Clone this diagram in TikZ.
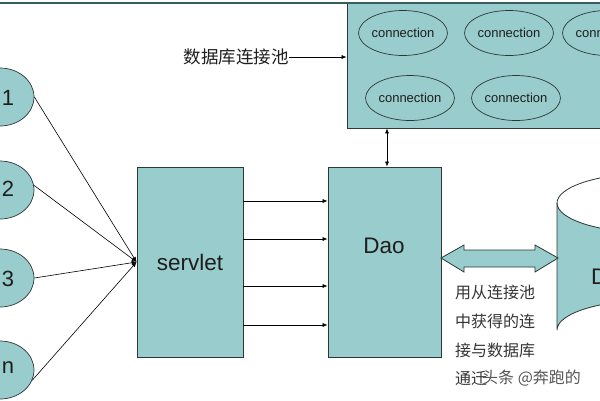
\documentclass[tikz,border=0pt]{standalone}
\usepackage{fontspec}
\setmainfont{Liberation Sans}
\newfontfamily\cjk{Noto Sans CJK SC}
\usetikzlibrary{arrows.meta,shapes.geometric}
\definecolor{tealfill}{RGB}{153,204,204}
\definecolor{edge}{RGB}{45,55,55}
\definecolor{topline}{RGB}{55,95,95}
\definecolor{txt}{RGB}{30,30,30}
\begin{document}
\begin{tikzpicture}[x=1pt,y=-1pt,
  box/.style={draw=edge, fill=tealfill, line width=0.8pt, inner sep=0},
  conn/.style={ellipse, draw=edge, line width=0.7pt, minimum width=86pt, minimum height=45pt, inner sep=0, text=txt, font=\fontsize{13}{15}\selectfont},
  client/.style={ellipse, draw=edge, fill=tealfill, line width=0.7pt, minimum width=68pt, minimum height=58pt, inner sep=0},
  numtxt/.style={font=\fontsize{22}{24}\selectfont, text=txt, inner sep=0},
  bigtxt/.style={font=\fontsize{22.5}{25}\selectfont, text=txt, inner sep=0},
  cjktxt/.style={font=\cjk\fontsize{16}{18}\selectfont, text=txt!90, inner sep=0, anchor=west},
  arr/.style={-{Latex[length=5pt,width=4pt]}, line width=0.6pt, draw=black},
  darr/.style={{Latex[length=5pt,width=4pt]}-{Latex[length=5pt,width=4pt]}, line width=0.6pt, draw=black}
]
\useasboundingbox (0,0) rectangle (600,400);
\clip (0,0) rectangle (600,400);
\fill[white] (0,0) rectangle (600,400);

% pool box
\node[box, minimum width=273pt, minimum height=125pt] (pool) at (483.5,65.5) {};
\draw[topline, line width=2pt] (0,2.5) -- (600,2.5);
\node[conn] (k1) at (403,33) {connection};
\node[conn] (k2) at (509,33) {connection};
\node[conn] (k3) at (607,33) {connection};
\node[conn] (k4) at (410,98) {connection};
\node[conn] (k5) at (516,98) {connection};

% pool label
\node[font=\cjk\fontsize{17.5}{20}\selectfont, text=txt, inner sep=0, anchor=east] (plbl) at (289,57) {数据库连接池};
\draw[arr] (plbl.east) -- (plbl.east -| pool.west);

% clients
\node[client] (c1) at (0,97) {};
\node[client] (c2) at (0,190) {};
\node[client] (c3) at (0,278) {};
\node[client] (c4) at (0,370) {};
\node[numtxt] (n1) at (8,98) {1};
\node[numtxt] (n2) at (8,189) {2};
\node[numtxt] (n3) at (8,279) {3};
\node[numtxt] (n4) at (8,368) {n};

% servlet and dao
\node[box, minimum width=106pt, minimum height=190pt, bigtxt] (srv) at (190,262) {servlet};
\node[box, minimum width=113pt, minimum height=190pt] (dao) at (384.5,262) {};
\node[bigtxt] (daot) at (384,246) {Dao};

\draw[arr] (c1.east) -- (srv.west);
\draw[arr] (c2.8) -- (srv.west);
\draw[arr] (c3.east) -- (srv.west);
\draw[arr] (c4.-18) -- (srv.west);

\coordinate (y1) at (0,201);
\coordinate (y2) at (0,239);
\coordinate (y3) at (0,286);
\coordinate (y4) at (0,325);
\foreach \c in {y1,y2,y3,y4}
  \draw[arr] (srv.east |- \c) -- (dao.west |- \c);

\coordinate (vx) at (387,0);
\draw[darr] (vx |- pool.south) -- (vx |- dao.north);

% database cylinder
\fill[tealfill] (557,203) -- (557,330) arc[start angle=180, end angle=360, x radius=96, y radius=30] -- (749,203) arc[start angle=0, end angle=180, x radius=96, y radius=30] -- cycle;
\draw[edge, line width=0.8pt] (557,203) -- (557,330) arc[start angle=180, end angle=360, x radius=96, y radius=30];
\draw[edge, line width=0.8pt] (653,203) ellipse [x radius=96, y radius=30];
\node[bigtxt, anchor=west] (dbt) at (591,277) {D};

% block double arrow
\draw[edge, fill=tealfill, line width=0.8pt, line join=miter]
  (441,258) -- (464,245) -- (464,250) -- (535,250) -- (535,245) -- (558,258)
  -- (535,272) -- (535,267) -- (464,267) -- (464,272) -- cycle;

% note
\node[cjktxt] (t1) at (455,292) {用从连接池};
\node[cjktxt] (t2) at (455,321) {中获得的连};
\node[cjktxt] (t3) at (455,350) {接与数据库};
\node[cjktxt] (t4) at (455,378) {通迁};
\node[cjktxt, text=txt!75] (wm) at (482,378) {头条 @奔跑的};
\end{tikzpicture}
\end{document}
